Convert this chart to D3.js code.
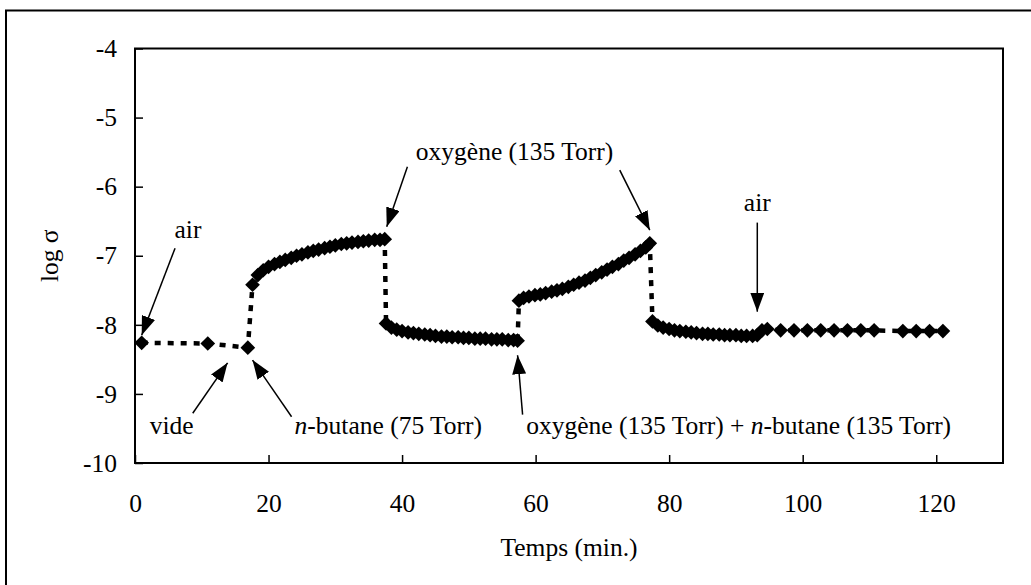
<!DOCTYPE html>
<html>
<head>
<meta charset="utf-8">
<script src="https://cdn.jsdelivr.net/npm/d3@7/dist/d3.min.js"></script>
<style>
  html, body { margin: 0; padding: 0; background: #fff; }
  svg { display: block; }
  text { font-family: "Liberation Serif", "Times New Roman", serif; fill: #000; }
</style>
</head>
<body>
<svg id="chart" width="1031" height="585"></svg>
<script>
// Conductivity (log σ) versus time under successive gas atmospheres
const vacuumT  = [1.0, 10.9, 16.9];
const vacuumV  = [-8.26, -8.27, -8.33];

const butaneT  = [17.6, 18.4, 19.2, 20.0, 20.9, 21.7, 22.5, 23.4, 24.2, 25.0, 25.9, 26.7, 27.5,
                  28.4, 29.2, 30.0, 30.9, 31.7, 32.5, 33.4, 34.2, 35.0, 35.9, 36.7, 37.4];
const butaneV  = [-7.42, -7.28, -7.21, -7.16, -7.12, -7.09, -7.06, -7.03, -7.00, -6.98, -6.95, -6.93, -6.91,
                  -6.89, -6.87, -6.85, -6.83, -6.82, -6.81, -6.80, -6.79, -6.78, -6.77, -6.77, -6.76];

const oxygenAT = [37.6, 38.4, 39.2, 40.0, 40.9, 41.7, 42.5, 43.4, 44.2, 45.0, 45.9, 46.7, 47.5,
                  48.4, 49.2, 50.0, 50.9, 51.7, 52.5, 53.4, 54.2, 55.0, 55.9, 56.7, 57.3];
const oxygenAV = [-7.98, -8.04, -8.07, -8.09, -8.11, -8.12, -8.13, -8.14, -8.15, -8.16, -8.17, -8.17, -8.18,
                  -8.18, -8.19, -8.19, -8.20, -8.20, -8.20, -8.21, -8.21, -8.21, -8.22, -8.22, -8.23];

const mixtureT = [57.5, 58.2, 59.0, 59.9, 60.7, 61.5, 62.4, 63.2, 64.0, 64.9, 65.7, 66.5, 67.4,
                  68.2, 69.0, 69.9, 70.7, 71.5, 72.4, 73.2, 74.0, 74.9, 75.7, 76.5, 77.1];
const mixtureV = [-7.65, -7.61, -7.59, -7.57, -7.56, -7.54, -7.52, -7.50, -7.48, -7.45, -7.42, -7.39, -7.36,
                  -7.32, -7.28, -7.24, -7.20, -7.16, -7.12, -7.07, -7.03, -6.98, -6.93, -6.88, -6.82];

const oxygenBT = [77.5, 78.3, 79.1, 80.0, 80.8, 81.6, 82.5, 83.3, 84.1, 85.0, 85.8, 86.6, 87.5,
                  88.3, 89.1, 90.0, 90.8, 91.6, 92.5, 93.2];
const oxygenBV = [-7.95, -8.01, -8.04, -8.06, -8.08, -8.09, -8.10, -8.11, -8.12, -8.13, -8.13, -8.14, -8.14,
                  -8.15, -8.15, -8.15, -8.16, -8.16, -8.16, -8.15];

const airT     = [93.9, 94.7, 96.7, 98.7, 100.7, 102.7, 104.7, 106.7, 108.7, 110.7, 115.0, 117.0, 119.0, 121.0];
const airV     = [-8.08, -8.06, -8.08, -8.08, -8.08, -8.08, -8.08, -8.08, -8.08, -8.08, -8.09, -8.09, -8.09, -8.09];

const xTicks = [0, 20, 40, 60, 80, 100, 120];
const yTicks = [-10, -9, -8, -7, -6, -5, -4];

const xTitle = "Temps (min.)";
const yTitle = "log σ";

const svg = d3.select("#chart");
const W = 1031, H = 585;
const margin = { left: 135, right: W - 1003, top: 48.5, bottom: H - 463 };

const x = d3.scaleLinear().domain([0, 130]).range([margin.left, W - margin.right]);
const y = d3.scaleLinear().domain([-10, -4]).range([H - margin.bottom, margin.top]);

// outer chart frame (runs past the right and bottom edges)
svg.append("rect")
  .attr("x", 6).attr("y", 10.5)
  .attr("width", 1100).attr("height", 700)
  .attr("fill", "none").attr("stroke", "#000").attr("stroke-width", 2);

// plot frame
svg.append("rect")
  .attr("x", x(0)).attr("y", y(-4))
  .attr("width", x(130) - x(0)).attr("height", y(-10) - y(-4))
  .attr("fill", "none").attr("stroke", "#000").attr("stroke-width", 2);

const fontSize = 25.5;

// axes with inward ticks
const xAxis = svg.append("g")
  .attr("transform", `translate(0,${y(-10)})`)
  .call(d3.axisBottom(x).tickValues(xTicks).tickSize(-8).tickPadding(31).tickFormat(d3.format("d")));
xAxis.select(".domain").remove();
xAxis.selectAll(".tick line").attr("stroke", "#000").attr("stroke-width", 1.5);
xAxis.selectAll(".tick text").attr("font-size", fontSize).attr("fill", "#000");

const yAxis = svg.append("g")
  .attr("transform", `translate(${x(0)},0)`)
  .call(d3.axisLeft(y).tickValues(yTicks).tickSize(-8).tickPadding(18).tickFormat(d => String(d)));
yAxis.select(".domain").remove();
yAxis.selectAll(".tick line").attr("stroke", "#000").attr("stroke-width", 1.5);
yAxis.selectAll(".tick text").attr("font-size", fontSize).attr("fill", "#000");

// axis titles
svg.append("text")
  .attr("x", (x(0) + x(130)) / 2).attr("y", 556)
  .attr("text-anchor", "middle").attr("font-size", fontSize)
  .text(xTitle);

svg.append("text")
  .attr("transform", `translate(58,${(y(-4) + y(-10)) / 2}) rotate(-90)`)
  .attr("text-anchor", "middle").attr("font-size", fontSize)
  .text(yTitle);

// data series: dotted connector with filled diamonds
const phases = [
  [vacuumT, vacuumV], [butaneT, butaneV], [oxygenAT, oxygenAV],
  [mixtureT, mixtureV], [oxygenBT, oxygenBV], [airT, airV]
];
const points = phases.flatMap(([ts, vs]) => ts.map((t, i) => ({ t, v: vs[i] })));

svg.append("path")
  .datum(points)
  .attr("fill", "none")
  .attr("stroke", "#000")
  .attr("stroke-width", 4.5)
  .attr("stroke-dasharray", "6,7")
  .attr("d", d3.line().x(d => x(d.t)).y(d => y(d.v)));

const diamond = d3.symbol().type(d3.symbolSquare).size(108);
svg.append("g").selectAll("path")
  .data(points)
  .join("path")
  .attr("d", diamond)
  .attr("transform", d => `translate(${x(d.t)},${y(d.v)}) rotate(45)`)
  .attr("fill", "#000");

// annotations: label position and arrows (tail -> head), in data units
svg.append("defs").append("marker")
  .attr("id", "head")
  .attr("markerUnits", "userSpaceOnUse")
  .attr("viewBox", "0 0 19 14")
  .attr("refX", 19).attr("refY", 7)
  .attr("markerWidth", 19).attr("markerHeight", 14)
  .attr("orient", "auto")
  .append("path").attr("d", "M0,0 L19,7 L0,14 Z").attr("fill", "#000");

const notes = [
  { parts: [["air", false]], at: [7.94, -6.74], anchor: "middle",
    arrows: [[[6.0, -6.89], [1.0, -8.15]]] },
  { parts: [["vide", false]], at: [5.48, -9.58], anchor: "middle",
    arrows: [[[8.65, -9.28], [13.87, -8.55]]] },
  { parts: [["n", true], ["-butane (75 Torr)", false]], at: [23.9, -9.58], anchor: "start",
    arrows: [[[23.45, -9.33], [17.6, -8.51]]] },
  { parts: [["oxygène (135 Torr)", false]], at: [56.85, -5.61], anchor: "middle",
    arrows: [[[40.8, -5.71], [37.7, -6.58]], [[72.6, -5.76], [77.1, -6.63]]] },
  { parts: [["oxygène (135 Torr) + ", false], ["n", true], ["-butane (135 Torr)", false]], at: [58.6, -9.58], anchor: "start",
    arrows: [[[58.05, -9.30], [57.3, -8.44]]] },
  { parts: [["air", false]], at: [93.2, -6.35], anchor: "middle",
    arrows: [[[93.2, -6.52], [93.2, -7.81]]] }
];

notes.forEach(n => {
  const t = svg.append("text")
    .attr("x", x(n.at[0])).attr("y", y(n.at[1]))
    .attr("text-anchor", n.anchor).attr("font-size", fontSize);
  n.parts.forEach(([s, it]) => t.append("tspan").attr("font-style", it ? "italic" : "normal").text(s));
  n.arrows.forEach(([a, b]) => {
    svg.append("line")
      .attr("x1", x(a[0])).attr("y1", y(a[1]))
      .attr("x2", x(b[0])).attr("y2", y(b[1]))
      .attr("stroke", "#000").attr("stroke-width", 1.5)
      .attr("marker-end", "url(#head)");
  });
});
</script>
</body>
</html>
